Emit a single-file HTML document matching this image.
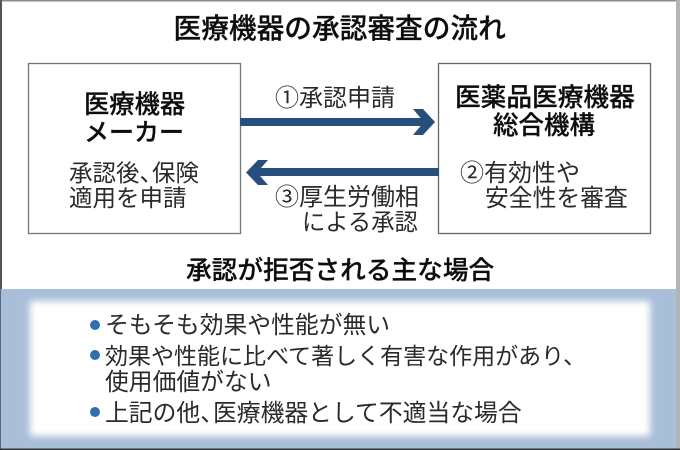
<!DOCTYPE html>
<html lang="ja"><head><meta charset="utf-8"><style>
html,body{margin:0;padding:0;background:#fff}
svg{display:block}
text{font-family:"Liberation Sans","Noto Sans CJK JP",sans-serif;fill:#1c1c1c}
.b{font-weight:500;fill:#111;stroke:#111;stroke-width:.25}
.r{font-weight:400;fill:#2a2a2a}
</style></head><body>
<svg width="680" height="450" viewBox="0 0 680 450" xmlns="http://www.w3.org/2000/svg">
<defs>
<filter id="bl" x="-10%" y="-20%" width="120%" height="140%"><feGaussianBlur stdDeviation="3.500"/></filter>
<filter id="soft" x="-5%" y="-5%" width="110%" height="110%"><feGaussianBlur stdDeviation="0.35"/></filter>
</defs>
<rect width="680" height="450" fill="#fff"/>
<rect x="0" y="289" width="680" height="161" fill="#a9bfd9"/>
<rect x="30" y="301" width="620" height="135" fill="#fff" filter="url(#bl)"/>
<rect x="0" y="0" width="680" height="1.5" fill="#8c8c8c"/>
<rect x="0" y="0" width="2" height="289" fill="#555"/>
<rect x="0" y="289" width="1" height="161" fill="#667"/>
<rect x="676" y="0" width="4" height="450" fill="#b4b4b4"/>
<rect x="0" y="448.5" width="680" height="1.5" fill="#333"/>

<rect x="28.500" y="63.500" width="212" height="170" fill="#fff" stroke="#777" stroke-width="1.300"/>
<rect x="438.500" y="63.500" width="212" height="170" fill="#fff" stroke="#666" stroke-width="1.300"/>

<g fill="#274f7e">
<rect x="240" y="118" width="188" height="8"/>
<polygon points="413,109 423,109 435,122 423,135 413,135 424,122"/>
<rect x="255" y="168" width="184" height="8"/>
<polygon points="268,160 258,160 246,172.500 258,185 268,185 257,172.500"/>
</g>

<g filter="url(#soft)">
<text class="b" x="173.500" y="38" font-size="27.700">医療機器の承認審査の流れ</text>
<text class="b" x="84" y="113" font-size="25.300">医療機器</text>
<text class="b" x="84" y="141" font-size="25">メーカー</text>
<text class="r" x="69" y="181" font-size="23.500">承認後<tspan>、</tspan><tspan dx="-11">保険</tspan></text>
<text class="r" x="69" y="206" font-size="23.500">適用を申請</text>
<text class="r" x="275" y="106" font-size="24">①承認申請</text>
<text class="r" x="275" y="205" font-size="24">③厚生労働相</text>
<text class="r" x="302" y="230" font-size="23.300">による承認</text>
<text class="b" x="455" y="106" font-size="25.700">医薬品医療機器</text>
<text class="b" x="493" y="134" font-size="25.500">総合機構</text>
<text class="r" x="460" y="181" font-size="24">②有効性や</text>
<text class="r" x="485" y="206" font-size="23.800">安全性を審査</text>
<text class="b" x="186" y="279" font-size="25.700">承認が拒否される主な場合</text>
<text class="r" x="105" y="333" font-size="23.800">そもそも効果や性能が無い</text>
<text class="r" x="105" y="364" font-size="23">効果や性能に比べて著しく有害な作用があり、</text>
<text class="r" x="105" y="390" font-size="23.800">使用価値がない</text>
<text class="r" x="105" y="421" font-size="23.800">上記の他<tspan>、</tspan><tspan dx="-11">医療機器として不適当な場合</tspan></text>
</g>
<g fill="#2f6fb0">
<circle cx="95" cy="325" r="5"/>
<circle cx="95" cy="355" r="5"/>
<circle cx="95" cy="412" r="5"/>
</g>
</svg>
</body></html>
